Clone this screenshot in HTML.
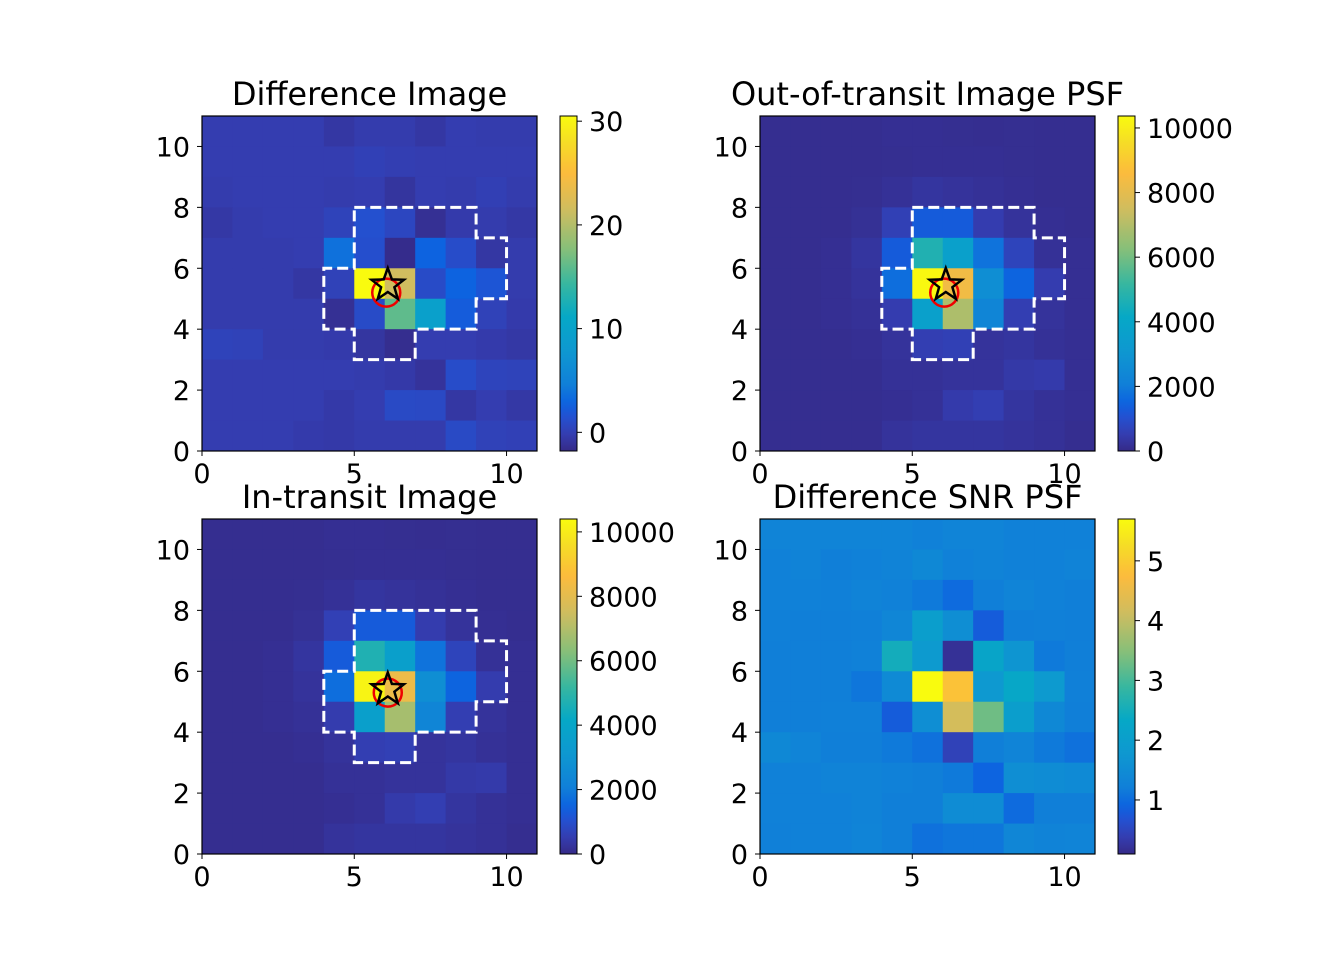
<!DOCTYPE html>
<html><head><meta charset="utf-8">
<style>
html,body{margin:0;padding:0;background:#fff;}
svg{display:block;font-family:"DejaVu Sans","Liberation Sans",sans-serif;}
</style></head>
<body>
<svg id="fig" width="1320" height="960" viewBox="0 0 1320 960" xmlns="http://www.w3.org/2000/svg"></svg>
<script>
// Data: rows listed top (y=10) to bottom (y=0), columns x=0..10
const diffImage = [
 [-0.2,-0.2,-0.2,-0.2,-0.7,-0.3,-0.3,-0.7,-0.2,-0.3,-0.3],
 [-0.2,-0.2,-0.2,-0.2,-0.2,0.1,-0.1,-0.2,-0.2,-0.2,-0.2],
 [-0.3,-0.2,-0.2,-0.2,-0.3,-0.2,-0.9,-0.2,-0.3,0.0,-0.3],
 [-0.6,-0.3,-0.2,-0.2,0.3,1.4,0.6,-1.3,-0.4,-0.3,-0.6],
 [-0.3,-0.3,-0.3,-0.2,3.7,1.3,-1.6,2.8,1.1,-0.7,-0.3],
 [-0.3,-0.3,-0.3,-0.7,0.2,30.5,21.5,1.0,2.8,1.8,-0.3],
 [-0.3,-0.3,-0.3,-0.3,-1.3,1.0,16.0,9.5,2.3,0.2,-0.4],
 [0.3,0.2,-0.3,-0.3,-0.4,-0.8,-1.5,-0.2,-0.2,-0.4,-0.6],
 [-0.2,-0.2,-0.2,-0.2,-0.2,-0.3,-0.5,-1.0,1.1,0.4,0.3],
 [-0.2,-0.2,-0.2,-0.2,-0.5,-0.2,0.9,0.8,-0.7,-0.2,-0.6],
 [-0.2,-0.2,-0.2,-0.4,-0.5,-0.3,-0.3,-0.3,0.9,0.2,0.1]
];
const ootImage = [
 [120,120,120,120,150,150,130,120,130,120,120],
 [120,120,120,120,130,150,150,150,130,120,110],
 [120,120,120,130,200,300,250,200,150,120,110],
 [120,120,120,180,600,1300,1300,500,250,150,110],
 [120,120,150,300,1300,4700,3600,1800,700,200,150],
 [120,120,150,250,1700,10300,8300,2700,1500,500,150],
 [120,120,150,200,500,3600,6900,2300,550,250,150],
 [120,120,120,150,250,550,600,250,300,200,150],
 [120,120,120,120,200,200,250,250,400,450,150],
 [120,120,120,120,150,200,450,550,300,200,150],
 [120,120,120,120,250,300,300,300,250,200,120]
];
const inImage = [
 [120,120,120,120,150,150,130,120,130,120,120],
 [120,120,120,120,130,150,150,150,130,120,110],
 [120,120,120,130,200,300,250,200,150,120,110],
 [120,120,120,180,600,1300,1300,500,250,150,110],
 [120,120,150,300,1300,4700,3600,1800,700,200,150],
 [120,120,150,250,1700,10200,8200,2700,1500,500,150],
 [120,120,150,200,500,3600,6800,2300,550,250,150],
 [120,120,120,150,250,550,600,250,300,200,150],
 [120,120,120,120,200,200,250,250,400,450,150],
 [120,120,120,120,150,200,450,550,300,200,150],
 [120,120,120,120,250,300,300,300,250,200,120]
];
const snrImage = [
 [1.3,1.32,1.3,1.3,1.3,1.25,1.3,1.3,1.25,1.25,1.25],
 [1.25,1.28,1.2,1.25,1.28,1.4,1.25,1.28,1.25,1.25,1.28],
 [1.25,1.25,1.22,1.28,1.25,1.15,0.98,1.2,1.3,1.25,1.2],
 [1.22,1.2,1.2,1.22,1.35,2.0,1.55,0.8,1.2,1.22,1.2],
 [1.2,1.2,1.2,1.25,2.5,1.85,0.2,2.2,1.7,1.15,1.2],
 [1.2,1.2,1.2,1.1,1.45,5.7,4.85,1.8,2.3,1.85,1.22],
 [1.2,1.2,1.22,1.22,0.8,1.55,4.2,3.3,2.0,1.4,1.2],
 [1.4,1.32,1.2,1.2,1.15,1.05,0.45,1.2,1.3,1.15,1.05],
 [1.25,1.25,1.28,1.28,1.25,1.2,1.15,0.9,1.55,1.5,1.45],
 [1.25,1.25,1.25,1.28,1.2,1.2,1.5,1.5,0.98,1.2,1.2],
 [1.22,1.25,1.25,1.3,1.2,1.05,1.1,1.1,1.35,1.28,1.3]
];
const panelTitles = ["Difference Image","Out-of-transit Image PSF","In-transit Image","Difference SNR PSF"];
const cbarRanges = [[-1.8,30.5],[0,10370],[0,10400],[0.096,5.70]];
const cbarTicks = [[0,10,20,30],[0,2000,4000,6000,8000,10000],[0,2000,4000,6000,8000,10000],[1,2,3,4,5]];
const xTicks = [0,5,10];
const yTicks = [0,2,4,6,8,10];
const aperture = [[5,8],[9,8],[9,7],[10,7],[10,5],[9,5],[9,4],[7,4],[7,3],[5,3],[5,4],[4,4],[4,6],[5,6],[5,8]];
const starPos = [[6.1,5.45],[6.1,5.45],[6.1,5.4]];
const circlePos = [[6.05,5.2],[6.05,5.2],[6.1,5.3]];

const stops=[[0,'#352a87'],[0.05,'#343db0'],[0.10,'#2450d0'],[0.14,'#0d62e0'],[0.20,'#1080d8'],[0.30,'#0e98d0'],[0.40,'#06a8c6'],[0.50,'#38b79f'],[0.60,'#84bf7a'],[0.72,'#cfbd5f'],[0.83,'#fdbb3c'],[0.92,'#f5dc26'],[1,'#f9fb0e']];
function hex(h){return [1,3,5].map(i=>parseInt(h.substr(i,2),16));}
function cmap(t){t=Math.max(0,Math.min(1,t));for(let i=1;i<stops.length;i++){if(t<=stops[i][0]){const a=stops[i-1],b=stops[i];const f=(t-a[0])/(b[0]-a[0]);const ca=hex(a[1]),cb=hex(b[1]);return 'rgb('+ca.map((v,k)=>Math.round(v+(cb[k]-v)*f)).join(',')+')';}}return stops[stops.length-1][1];}

const NS='http://www.w3.org/2000/svg';
const svg=document.getElementById('fig');
function el(tag,attrs,parent){const e=document.createElementNS(NS,tag);for(const k in attrs)e.setAttribute(k,attrs[k]);(parent||svg).appendChild(e);return e;}

const panels=[{x:202,y:116,cx:560,data:diffImage,ap:true},{x:760,y:116,cx:1118,data:ootImage,ap:true},{x:202,y:519,cx:560,data:inImage,ap:true},{x:760,y:519,cx:1118,data:snrImage,ap:false}];
const W=335,H=335,N=11;
const names=['difference-image','out-of-transit-image','in-transit-image','difference-snr'];
panels.forEach((p,pi)=>{
  const g=el('g',{});
  
  
  const sx=v=>p.x+v*W/N, sy=v=>p.y+H-v*H/N;
  const [vmin,vmax]=cbarRanges[pi];
  p.data.forEach((row,ri)=>{const yv=10-ri;row.forEach((v,ci)=>{
    const r=el('rect',{x:sx(ci),y:sy(yv+1),width:W/N+0.5,height:H/N+0.5,fill:cmap((v-vmin)/(vmax-vmin))},g);
    
    
  });});
  if(p.ap){
    const pa=el('polyline',{points:aperture.map(q=>sx(q[0])+','+sy(q[1])).join(' '),fill:'none',stroke:'#fff','stroke-width':3,'stroke-dasharray':'11,5'},g);
    
    
    const cp=circlePos[pi];
    const c=el('circle',{cx:sx(cp[0]),cy:sy(cp[1]),r:14,fill:'none',stroke:'#e00','stroke-width':2.5},g);
    
    
    const s=starPos[pi];const cx=sx(s[0]),cy=sy(s[1]);let pts=[];
    for(let k=0;k<10;k++){const a=-Math.PI/2+k*Math.PI/5;const rr=k%2?7:17;pts.push((cx+rr*Math.cos(a)).toFixed(1)+','+(cy+rr*Math.sin(a)).toFixed(1));}
    const st=el('polygon',{points:pts.join(' '),fill:'none',stroke:'#000','stroke-width':2.5},g);
    
    
  }
  el('rect',{x:p.x,y:p.y,width:W,height:H,fill:'none',stroke:'#000','stroke-width':1.2},g);
  xTicks.forEach(t=>{el('line',{x1:sx(t),x2:sx(t),y1:p.y+H,y2:p.y+H+5,stroke:'#000'},g);
    const tx=el('text',{x:sx(t),y:p.y+H+32,'font-size':27,'text-anchor':'middle'},g);tx.textContent=t;
    });
  yTicks.forEach(t=>{el('line',{x1:p.x-5,x2:p.x,y1:sy(t),y2:sy(t),stroke:'#000'},g);
    const tx=el('text',{x:p.x-12,y:sy(t)+10,'font-size':27,'text-anchor':'end'},g);tx.textContent=t;
    });
  const ti=el('text',{x:p.x+W/2,y:p.y-11,'font-size':32,'text-anchor':'middle'},g);ti.textContent=panelTitles[pi];
  
  // colorbar
  const gid='cg'+pi;const lg=el('linearGradient',{id:gid,x1:0,y1:1,x2:0,y2:0},g);
  for(let k=0;k<=40;k++){el('stop',{offset:k/40,'stop-color':cmap(k/40)},lg);}
  const cb=el('rect',{x:p.cx,y:p.y,width:17,height:H,fill:'url(#'+gid+')',stroke:'#000','stroke-width':1},g);
  
  const cy=v=>p.y+H-(v-vmin)/(vmax-vmin)*H;
  cbarTicks[pi].forEach(t=>{el('line',{x1:p.cx+17,x2:p.cx+22,y1:cy(t),y2:cy(t),stroke:'#000'},g);
    const tx=el('text',{x:p.cx+29,y:cy(t)+10,'font-size':27},g);tx.textContent=t;
    });
});
</script>
</body></html>
